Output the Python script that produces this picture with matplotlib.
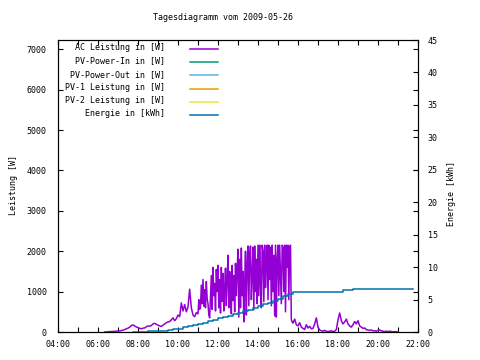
import numpy as np
import matplotlib
matplotlib.use("Agg")
import matplotlib.pyplot as plt  # noqa: E402
from matplotlib.ticker import MultipleLocator, FuncFormatter  # noqa: E402

plt.rcParams["font.family"] = ["DejaVu Sans Mono"]
plt.rcParams["font.size"] = 6

TITLE = "Tagesdiagramm vom 2009-05-26"

# AC power [W], 5 min steps from 06:20 to 10:55
ac_morning = [0, 0, 5, 10, 10, 15, 15, 20,
              25, 30, 35, 45, 60, 80, 95, 120, 160, 175, 150, 125,
              110, 90, 80, 95, 100, 130, 150, 145, 160, 200, 215, 190,
              170, 150, 140, 170, 200, 230, 250, 260, 300, 350, 280, 330,
              420, 380, 720, 520, 680, 500, 620, 1060, 600, 420, 380, 480]
# 2.5 min steps from 11:00 to 15:42.5
ac_midday = [450, 800, 560, 620, 1160, 700, 1300, 640, 1050, 600, 1250, 820,
             700, 420, 350, 900, 1400, 560, 1600, 900, 1200, 520, 1550, 1000,
             1650, 600, 1300, 470, 1600, 760, 1450, 520, 1100, 1580, 650, 1350,
             1900, 600, 1500, 1100, 450, 1650, 780, 1400, 500, 1700, 900, 1550,
             2050, 370, 1800, 600, 2080, 900, 1500, 250, 1200, 2000, 420, 1700,
             2130, 650, 1900, 2130, 800, 1400, 2100, 550, 2130, 1000, 1800, 700,
             2150, 900, 2150, 1200, 600, 2150, 2000, 750, 2150, 1100, 1700, 2150,
             800, 2150, 1300, 2100, 650, 2150, 1000, 1900, 400, 2150, 370, 1800,
             2150, 900, 2150, 1400, 700, 2150, 2100, 1000, 2150, 500, 2150, 1600,
             2150, 800, 2100, 2150, 300, 250]
# 5 min steps from 15:45 to 21:00
ac_evening = [220, 320, 180,
              150, 230, 120, 90, 60, 180, 100, 140, 80, 90, 200, 350,
              120, 50, 30, 20, 40, 20, 10, 20, 30, 10, 20, 60,
              300, 470, 280, 200, 250, 320, 200, 150, 120, 180, 260, 200,
              280, 150, 120, 90, 100, 60, 50, 40, 50, 30, 30, 20,
              40, 50, 30, 20, 10, 20, 10, 20, 10, 5, 10, 5,
              0]

# daily energy [kWh], 15 min steps from 07:45 to 21:45
energy = [0.0, 0.0, 0.0, 0.1, 0.1, 0.1, 0.2, 0.3, 0.4, 0.5, 0.7, 0.9, 1.1,
          1.2, 1.4, 1.7, 1.9, 2.1, 2.3, 2.5, 2.7, 2.9, 3.2, 3.4, 3.7,
          4.0, 4.3, 4.5, 4.8, 5.1, 5.5, 5.8, 6.1, 6.1, 6.1, 6.2, 6.2,
          6.2, 6.2, 6.2, 6.2, 6.2, 6.4, 6.5, 6.6,
          6.6, 6.6, 6.6, 6.6, 6.6, 6.6, 6.6, 6.6, 6.6, 6.6, 6.6, 6.6]

labels = ["AC Leistung in [W]", "PV-Power-In in [W]", "PV-Power-Out in [W]",
          "PV-1 Leistung in [W]", "PV-2 Leistung in [W]", "Energie in [kWh]"]
colors = ["#9400d3", "#009e73", "#56b4e9", "#e69f00", "#f0e442", "#0072b2"]

t_ac = np.concatenate([
    np.arange(len(ac_morning)) * 5 / 60 + (6 + 20 / 60),
    np.arange(len(ac_midday)) * 2.5 / 60 + 11,
    np.arange(len(ac_evening)) * 5 / 60 + (15 + 45 / 60),
])
ac = np.array(ac_morning + ac_midday + ac_evening, dtype=float)
t_en = np.arange(len(energy)) * 0.25 + 7.75

fig = plt.figure(figsize=(4.8, 3.6), dpi=100)
ax = fig.add_axes([58 / 480, 28 / 360, 360 / 480, 292 / 360])
ax2 = ax.twinx()

lines = [ax.plot(t_ac, ac, color=colors[0], lw=1.1, label=labels[0])[0]]
# the PV series carry no data on this day, they only show up in the key
for c, lab in zip(colors[1:5], labels[1:5]):
    lines.append(ax.plot([], [], color=c, lw=1.1, label=lab)[0])
lines.append(ax2.plot(t_en, energy, color=colors[5], lw=1.1,
                      drawstyle="steps-post", label=labels[5])[0])

ax.set_xlim(4, 22)
ax.set_ylim(0, 7230)
ax2.set_ylim(0, 45)

ax.xaxis.set_major_locator(MultipleLocator(2))
ax.xaxis.set_minor_locator(MultipleLocator(1))
ax.xaxis.set_major_formatter(FuncFormatter(lambda v, p: f"{int(v):02d}:00"))
ax.yaxis.set_major_locator(MultipleLocator(1000))
ax2.yaxis.set_major_locator(MultipleLocator(5))

ax.tick_params(axis="both", which="both", direction="in", length=3.5,
               width=0.8, top=True, right=True, labelsize=6)
ax.tick_params(axis="x", pad=6)
ax.tick_params(axis="y", pad=8)
ax2.tick_params(axis="y", direction="in", length=3.5, width=0.8,
                labelsize=6, pad=7)

for a in (ax, ax2):
    for s in a.spines.values():
        s.set_linewidth(0.8)
        s.set_color("black")

fig.text(223 / 480, 1 - 18 / 360, TITLE, ha="center", va="center", fontsize=6)
fig.text(13 / 480, 1 - 185 / 360, "Leistung [W]", rotation=90,
         ha="center", va="center", fontsize=6)
fig.text(452 / 480, 1 - 194 / 360, "Energie [kWh]", rotation=90,
         ha="center", va="center", fontsize=6)

# gnuplot style key: labels right aligned, sample line after the text
for i, ln in enumerate(lines):
    y = 0.973 - i * 0.0452
    ax2.text(0.297, y, ln.get_label(), ha="right", va="center",
             transform=ax2.transAxes, fontsize=6)
    ax2.plot([0.367, 0.444], [y - 0.004, y - 0.004], color=ln.get_color(),
             lw=1.1, transform=ax2.transAxes, clip_on=False)

fig.savefig("out.png", dpi=100)
